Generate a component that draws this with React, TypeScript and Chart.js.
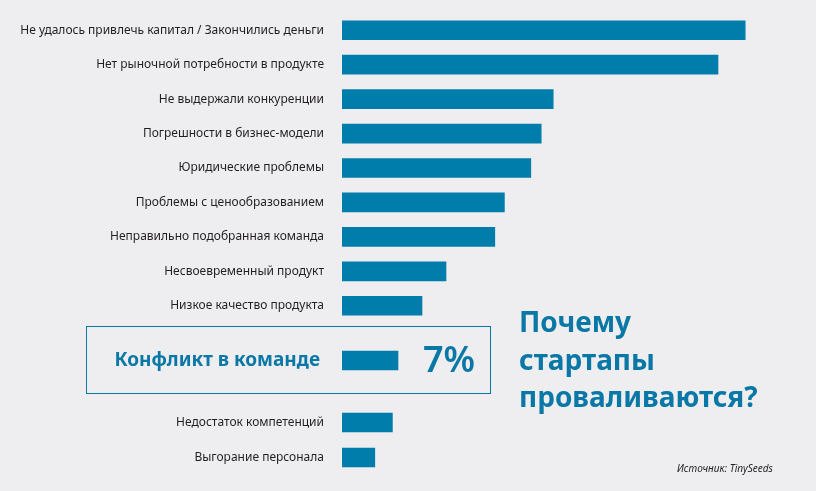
import React, { useEffect, useRef } from "react";
import { Chart, registerables } from "chart.js";

Chart.register(...registerables);

// Reasons startups fail, share of cases (%)
const topReasons = [
  "Не удалось привлечь капитал / Закончились деньги",
  "Нет рыночной потребности в продукте",
  "Не выдержали конкуренции",
  "Погрешности в бизнес-модели",
  "Юридические проблемы",
  "Проблемы с ценообразованием",
  "Неправильно подобранная команда",
  "Несвоевременный продукт",
  "Низкое качество продукта",
];
const topValues = [50.4, 47, 26.4, 24.9, 23.6, 20.3, 19.1, 13, 10];

const focusReason = ["Конфликт в команде"];
const focusValue = [7];

const tailReasons = ["Недостаток компетенций", "Выгорание персонала"];
const tailValues = [6.3, 4.1];

const X_MAX = 55;

const BG = "#eeeef0";
const BAR = "#007dab";
const ACCENT = "#0a78a6";
const FONT = "'Noto Sans', 'Open Sans', sans-serif";

const valueLabelPlugin = {
  id: "valueLabel",
  afterDatasetsDraw(chart: any, _args: any, opts: any) {
    if (!opts || !opts.enabled) return;
    const { ctx } = chart;
    const meta = chart.getDatasetMeta(0);
    const data = chart.data.datasets[0].data as number[];
    ctx.save();
    ctx.fillStyle = ACCENT;
    ctx.font = `600 36px ${FONT}`;
    ctx.textAlign = "left";
    ctx.textBaseline = "middle";
    meta.data.forEach((bar: any, i: number) => {
      ctx.fillText(`${data[i]}%`, bar.x + 25, bar.y + 1);
    });
    ctx.restore();
  },
};

function makeConfig(
  labels: string[],
  values: number[],
  tickFont: any,
  tickColor: string,
  tickPadding: number,
  showValue: boolean
): any {
  return {
    type: "bar",
    data: {
      labels,
      datasets: [
        {
          data: values,
          backgroundColor: BAR,
          borderWidth: 0,
          barThickness: 19,
        },
      ],
    },
    options: {
      indexAxis: "y",
      responsive: false,
      animation: false,
      devicePixelRatio: 1,
      layout: { padding: 0 },
      plugins: {
        legend: { display: false },
        tooltip: { enabled: false },
        title: { display: false },
        valueLabel: { enabled: showValue },
      },
      scales: {
        x: { display: false, min: 0, max: X_MAX },
        y: {
          grid: { display: false, drawTicks: false },
          border: { display: false },
          ticks: {
            autoSkip: false,
            padding: tickPadding,
            color: tickColor,
            font: tickFont,
          },
          afterFit(scale: any) {
            scale.width = 342;
            // bars sit in evenly spaced bands; no extra room above/below
            scale.paddingTop = 0;
            scale.paddingBottom = 0;
          },
        },
      },
    },
    plugins: [valueLabelPlugin],
  };
}

function BarCanvas(props: {
  config: () => any;
  top: number;
  height: number;
}) {
  const ref = useRef<HTMLCanvasElement>(null);
  useEffect(() => {
    if (!ref.current) return;
    const chart = new Chart(ref.current, props.config());
    return () => chart.destroy();
  }, []);
  return (
    <canvas
      ref={ref}
      width={782}
      height={props.height}
      style={{
        position: "absolute",
        left: 0,
        top: props.top,
        width: 782,
        height: props.height,
      }}
    />
  );
}

export default function App() {
  useEffect(() => {
    document.body.style.margin = "0";
    document.body.style.background = BG;
  }, []);

  const regularFont = { family: FONT, size: 12 };
  const focusFont = { family: FONT, size: 19, weight: "bold" };

  return (
    <div
      style={{
        position: "relative",
        width: 816,
        height: 491,
        background: BG,
        overflow: "hidden",
        fontFamily: FONT,
      }}
    >
      <BarCanvas
        top={13}
        height={310}
        config={() =>
          makeConfig(topReasons, topValues, regularFont, "#231f20", 18, false)
        }
      />
      <div
        style={{
          position: "absolute",
          left: 86,
          top: 326,
          width: 403,
          height: 66,
          border: `1.5px solid ${ACCENT}`,
        }}
      />
      <BarCanvas
        top={343}
        height={35}
        config={() =>
          makeConfig(focusReason, focusValue, focusFont, ACCENT, 22, true)
        }
      />
      <BarCanvas
        top={405}
        height={70}
        config={() =>
          makeConfig(tailReasons, tailValues, regularFont, "#231f20", 18, false)
        }
      />
      <div
        style={{
          position: "absolute",
          left: 519,
          top: 303,
          color: ACCENT,
          fontWeight: 700,
          fontSize: 28,
          lineHeight: "37.5px",
        }}
      >
        Почему
        <br />
        стартапы
        <br />
        проваливаются?
      </div>
      <div
        style={{
          position: "absolute",
          left: 677,
          top: 461,
          color: "#231f20",
          fontStyle: "italic",
          fontSize: 10,
        }}
      >
        Источник: TinySeeds
      </div>
    </div>
  );
}
